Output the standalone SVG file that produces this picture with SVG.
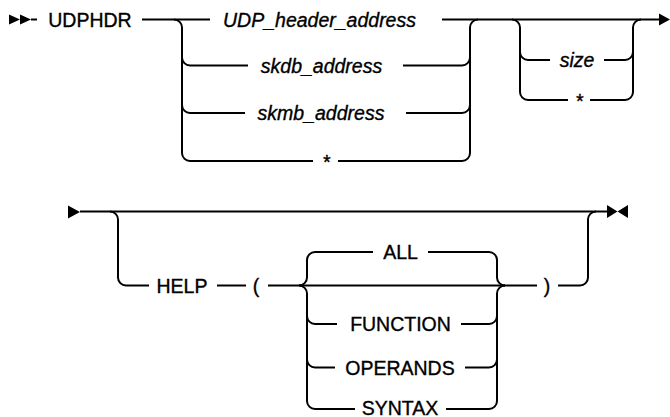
<svg xmlns="http://www.w3.org/2000/svg" width="670" height="417" viewBox="0 0 670 417">
<style>
.ln{fill:none;stroke:#000;stroke-width:2;}
.ar{fill:#000;stroke:none;}
text{font-family:"Liberation Sans",Arial,sans-serif;font-size:19.5px;fill:#000;stroke:#000;stroke-width:0.35;text-anchor:middle;}
.v{font-style:italic;}
</style>
<rect width="670" height="417" fill="#fff"/>
<g id="connectors">
<!-- row 1 -->
<polygon class="ar" points="9,14.5 9,24.5 20,19.5"/>
<polygon class="ar" points="20,14.5 20,24.5 31,19.5"/>
<path class="ln" d="M31 19.5 H37"/>
<path class="ln" d="M142 19.5 H210"/>
<path class="ln" d="M442 19.5 H660"/>
<polygon class="ar" points="659,13.5 659,25.5 670,19.5"/>
<path class="ln" d="M174 19.5 A8 8 0 0 1 182 27.5 V153 A8 8 0 0 0 190 161 H313"/>
<path class="ln" d="M182 57.5 A8 8 0 0 0 190 65.5 H248"/>
<path class="ln" d="M182 105 A8 8 0 0 0 190 113 H245"/>
<path class="ln" d="M338 161 H462 A8 8 0 0 0 470 153 V27.5 A8 8 0 0 1 478 19.5"/>
<path class="ln" d="M403 65.5 H462 A8 8 0 0 0 470 57.5"/>
<path class="ln" d="M406 113 H462 A8 8 0 0 0 470 105"/>
<path class="ln" d="M512 19.5 A8 8 0 0 1 520 27.5 V92 A8 8 0 0 0 528 100 H568"/>
<path class="ln" d="M520 52 A8 8 0 0 0 528 60 H550"/>
<path class="ln" d="M590 100 H625 A8 8 0 0 0 633 92 V27.5 A8 8 0 0 1 641 19.5"/>
<path class="ln" d="M604 60 H625 A8 8 0 0 0 633 52"/>
<!-- row 2 -->
<polygon class="ar" points="68,205.5 68,218.5 80,212"/>
<path class="ln" d="M80 211.5 H607"/>
<polygon class="ar" points="607,205 607,218 617.5,211.5"/>
<polygon class="ar" points="628,205 628,218 617.5,211.5"/>
<path class="ln" d="M110 211.5 A8 8 0 0 1 118 219.5 V277.5 A8 8 0 0 0 126 285.5 H149"/>
<path class="ln" d="M217 285.5 H246"/>
<path class="ln" d="M268 285.5 H537"/>
<path class="ln" d="M558 285.5 H580 A8 8 0 0 0 588 277.5 V219.5 A8 8 0 0 1 596 211.5"/>
<path class="ln" d="M299 285.5 A8 8 0 0 0 307 277.5 V260 A8 8 0 0 1 315 252 H373"/>
<path class="ln" d="M299 285.5 A8 8 0 0 1 307 293.5 V401 A8 8 0 0 0 315 409 H355"/>
<path class="ln" d="M307 316 A8 8 0 0 0 315 324 H337"/>
<path class="ln" d="M307 359.5 A8 8 0 0 0 315 367.5 H335"/>
<path class="ln" d="M428 252 H489 A8 8 0 0 1 497 260 V277.5 A8 8 0 0 0 505 285.5"/>
<path class="ln" d="M446 409 H489 A8 8 0 0 0 497 401 V293.5 A8 8 0 0 1 505 285.5"/>
<path class="ln" d="M461 324 H489 A8 8 0 0 0 497 316"/>
<path class="ln" d="M465 367.5 H489 A8 8 0 0 0 497 359.5"/>
</g>
<g id="n-udphdr"><text x="90" y="26.5">UDPHDR</text></g>
<g id="n-udp-header-address"><text class="v" x="319.5" y="26.5">UDP_header_address</text></g>
<g id="n-skdb-address"><text class="v" x="321.5" y="72.5">skdb_address</text></g>
<g id="n-skmb-address"><text class="v" x="321" y="120">skmb_address</text></g>
<g id="n-star1"><text class="v" x="326" y="169">*</text></g>
<g id="n-size"><text class="v" x="577" y="67">size</text></g>
<g id="n-star2"><text class="v" x="579" y="108">*</text></g>
<g id="n-help"><text x="182" y="292.5">HELP</text></g>
<g id="n-lparen"><text x="256" y="292.5">(</text></g>
<g id="n-all"><text x="400.5" y="259">ALL</text></g>
<g id="n-function"><text x="400.5" y="331">FUNCTION</text></g>
<g id="n-operands"><text x="400" y="374.5">OPERANDS</text></g>
<g id="n-syntax"><text x="400" y="414.5">SYNTAX</text></g>
<g id="n-rparen"><text x="547" y="292.5">)</text></g>
</svg>
